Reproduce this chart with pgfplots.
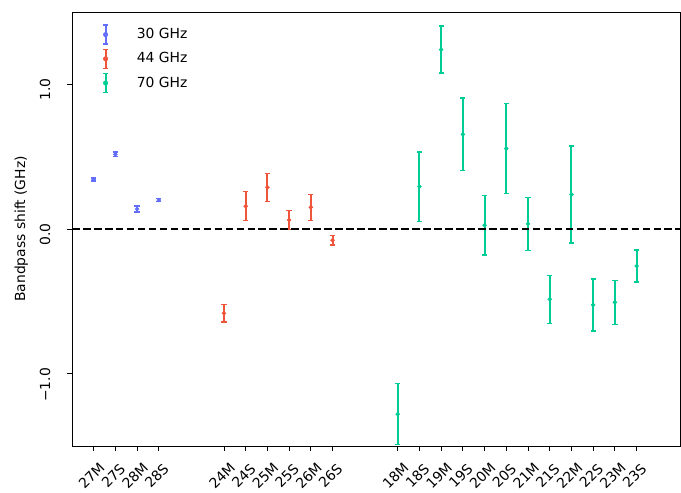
\documentclass[border=0pt]{standalone}
\usepackage{fontspec}
\setmainfont{DejaVu Sans}
\usepackage{pgfplots}
\usepackage{pgfplotstable}
\pgfplotsset{compat=1.18}
\definecolor{c30}{HTML}{636EFA}
\definecolor{c44}{HTML}{EF553B}
\definecolor{c70}{HTML}{00CC96}

\pgfplotstableread{
x y e
0 0.341 0.010
1 0.516 0.015
2 0.138 0.020
3 0.200 0.012
}\tabA
\pgfplotstableread{
x y e
6 -0.583 0.060
7 0.157 0.100
8 0.288 0.097
9 0.062 0.064
10 0.150 0.090
11 -0.078 0.033
}\tabB
\pgfplotstableread{
x y e
14 -1.280 0.210
15 0.293 0.240
16 1.240 0.163
17 0.654 0.250
18 0.026 0.207
19 0.556 0.310
20 0.035 0.183
21 -0.486 0.166
22 0.238 0.335
23 -0.525 0.180
24 -0.507 0.152
25 -0.256 0.110
}\tabC

\pgfplotsset{
  ebar/.style={color=#1, only marks, mark=*, mark size=1.4pt,
    mark options={draw=#1, fill=#1, line width=0.4pt},
    error bars/.cd, y dir=both, y explicit,
    error bar style={line width=1.4pt, draw=#1, solid},
    error mark options={rotate=90, mark size=1.9pt, line width=1pt, draw=#1, solid}},
}

\begin{document}
\begin{tikzpicture}
\begin{axis}[
  name=ax,
  scale only axis,
  width=437.8pt, height=312.5pt,
  xmin=-1, xmax=27, ymin=-1.5, ymax=1.5,
  xtick={0,1,2,3,6,7,8,9,10,11,14,15,16,17,18,19,20,21,22,23,24,25},
  xticklabels={27M,27S,28M,28S,24M,24S,25M,25S,26M,26S,18M,18S,19M,19S,20M,20S,21M,21S,22M,22S,23M,23S},
  ytick={-1,0,1},
  yticklabels={−1.0,0.0,1.0},
  tick align=outside,
  major tick length=3.5pt,
  tick style={black, line width=0.6pt},
  xtick pos=bottom, ytick pos=left,
  axis line style={line width=0.6pt},
  xticklabel style={font=\fontsize{10}{12}\selectfont, xshift=-1.5pt, yshift=-18pt, rotate=45, anchor=center},
  yticklabel style={font=\fontsize{10}{12}\selectfont, inner sep=0pt, xshift=-12.2pt, yshift=4.3pt, rotate=90, anchor=base east},
  ylabel={Bandpass shift (GHz)},
  every axis y label/.style={at={(rel axis cs:0,0.5)}, rotate=90, anchor=center, yshift=36.5pt},
  ylabel style={font=\fontsize{10}{12}\selectfont},
  legend cell align=left,
  legend style={at={(0.048,0.9755)}, anchor=north west, draw=none, fill=none,
    font=\fontsize{10}{12}\selectfont, row sep=4.5pt},
  legend image code/.code={
    \draw[overlay, line width=1.4pt] (0.3cm,-6.8pt) -- (0.3cm,6.8pt);
    \draw[overlay, line width=1pt] (0.3cm,-6.8pt) ++(-1.6pt,0) -- ++(3.2pt,0);
    \draw[overlay, line width=1pt] (0.3cm,6.8pt) ++(-1.6pt,0) -- ++(3.2pt,0);
    \fill[overlay] (0.3cm,0) circle (1.6pt);
    \path[draw=none, fill=none] (0.3cm,-4pt) rectangle ++(20.5pt,8pt);
  },
]
\addplot[ebar=c30] table[x=x, y=y, y error=e] {\tabA};
\addlegendentry{30 GHz}
\addplot[ebar=c44] table[x=x, y=y, y error=e] {\tabB};
\addlegendentry{44 GHz}
\addplot[ebar=c70] table[x=x, y=y, y error=e] {\tabC};
\addlegendentry{70 GHz}
\draw[black, line width=1.1pt, dash pattern=on 5.5pt off 2.4pt] (axis cs:-1,0) -- (axis cs:27,0);
\end{axis}
\pgfresetboundingbox
\path ([xshift=-51.8pt,yshift=-33.8pt]ax.south west) rectangle ([xshift=0.7pt,yshift=8.6pt]ax.north east);
\end{tikzpicture}
\end{document}
